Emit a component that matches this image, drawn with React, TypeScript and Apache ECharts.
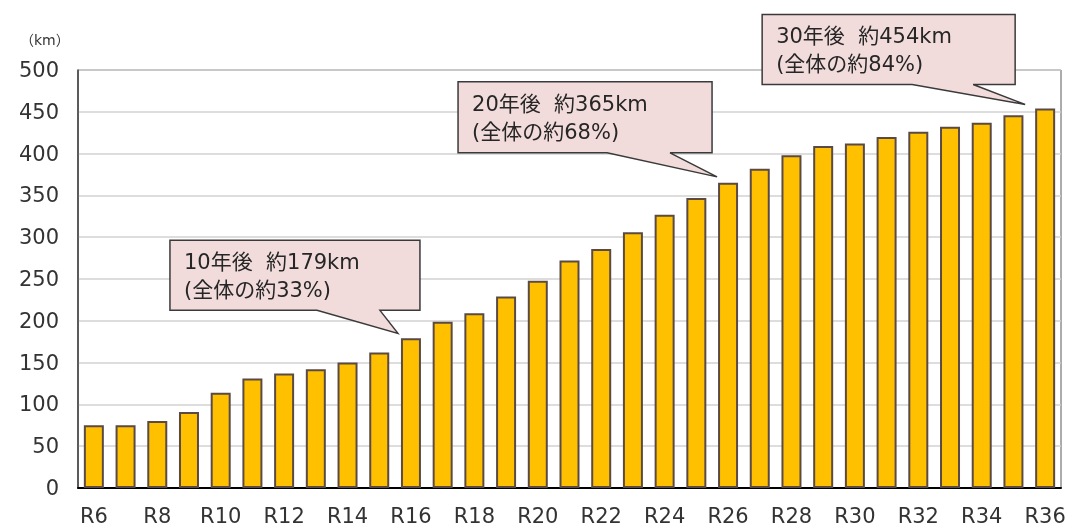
import React, { useEffect, useRef } from "react";
import * as echarts from "echarts";

const categories = [
  "R6", "R7", "R8", "R9", "R10", "R11", "R12", "R13", "R14", "R15", "R16",
  "R17", "R18", "R19", "R20", "R21", "R22", "R23", "R24", "R25", "R26",
  "R27", "R28", "R29", "R30", "R31", "R32", "R33", "R34", "R35", "R36",
];
const lengthKm = [
  75, 75, 80, 91, 114, 131, 137, 142, 150, 162, 179,
  199, 209, 229, 248, 272, 286, 306, 327, 347, 365,
  382, 398, 409, 412, 420, 426, 432, 437, 446, 454,
];
const yTicks = [0, 50, 100, 150, 200, 250, 300, 350, 400, 450, 500];
const unitLabel = "（km）";
const calloutCategories = ["R16", "R26", "R36"];
const calloutLine1 = ["10年後  約179km", "20年後  約365km", "30年後  約454km"];
const calloutLine2 = ["(全体の約33%)", "(全体の約68%)", "(全体の約84%)"];

// box geometry relative to the bar-top centre (layout, not data)
const calloutGeom = [
  { tip: [-13, -5], box: [-241, -98, 9, -28], base: [-94, -31] },
  { tip: [-11, -6], box: [-270, -101, -16, -30], base: [-121, -58] },
  { tip: [-20, -4], box: [-283, -94, -30, -24], base: [-133, -72] },
];

const FONT = "'DejaVu Sans', 'Noto Sans CJK JP', sans-serif";

export default function App() {
  const ref = useRef<HTMLDivElement>(null);
  useEffect(() => {
    if (!ref.current) return;
    const chart = echarts.init(ref.current, null, { renderer: "svg" });
    const option: any = {
      animation: false,
      grid: {
        left: 78, right: 9, top: 70, bottom: 39,
        show: true, borderColor: "#595959", borderWidth: 1,
      },
      xAxis: {
        type: "category",
        data: categories,
        axisLine: { lineStyle: { color: "#000", width: 2 } },
        axisTick: { show: false },
        axisLabel: {
          interval: 1, color: "#333", fontSize: 21, fontFamily: FONT,
          margin: 18, lineHeight: 19,
        },
      },
      yAxis: {
        type: "value",
        min: yTicks[0],
        max: yTicks[yTicks.length - 1],
        interval: yTicks[1] - yTicks[0],
        axisLine: { show: true, lineStyle: { color: "#404040", width: 1.5 } },
        axisTick: { show: false },
        splitLine: { lineStyle: { color: "#d2d2d2", width: 1.5 } },
        axisLabel: { color: "#333", fontSize: 21, fontFamily: FONT, margin: 19 },
      },
      series: [
        {
          type: "bar",
          data: lengthKm,
          barWidth: 20,
          itemStyle: { color: "#FFC000", borderColor: "#5b4a44", borderWidth: 2 },
        },
      ],
    };
    chart.setOption(option);

    const graphics: any[] = [
      {
        type: "text",
        left: 20,
        top: 33,
        style: { text: unitLabel, fill: "#333", font: `14px ${FONT}` },
      },
    ];
    calloutCategories.forEach((cat, i) => {
      const idx = categories.indexOf(cat);
      const p = chart.convertToPixel({ xAxisIndex: 0, yAxisIndex: 0 }, [idx, lengthKm[idx]]) as number[];
      const g = calloutGeom[i];
      const cx = p[0], cy = p[1];
      const [bl, bt, br, bb] = g.box;
      const points = [
        [cx + bl, cy + bt],
        [cx + br, cy + bt],
        [cx + br, cy + bb],
        [cx + g.base[1], cy + bb],
        [cx + g.tip[0], cy + g.tip[1]],
        [cx + g.base[0], cy + bb],
        [cx + bl, cy + bb],
      ];
      graphics.push({
        type: "polygon",
        shape: { points },
        style: { fill: "#F2DCDB", stroke: "#3a3a3a", lineWidth: 1.5 },
        z: 100,
      });
      graphics.push({
        type: "text",
        x: cx + bl + 14,
        y: cy + bt + 22,
        style: {
          text: calloutLine1[i], fill: "#262626", font: `21px ${FONT}`,
          textVerticalAlign: "middle", lineHeight: 22,
        },
        z: 101,
      });
      graphics.push({
        type: "text",
        x: cx + bl + 14,
        y: cy + bt + 50,
        style: {
          text: calloutLine2[i], fill: "#262626", font: `21px ${FONT}`,
          textVerticalAlign: "middle", lineHeight: 22,
        },
        z: 101,
      });
    });
    chart.setOption({ graphic: graphics });
    return () => chart.dispose();
  }, []);
  return (
    <div
      ref={ref}
      style={{ position: "fixed", left: 0, top: 0, width: 1070, height: 527 }}
    />
  );
}
